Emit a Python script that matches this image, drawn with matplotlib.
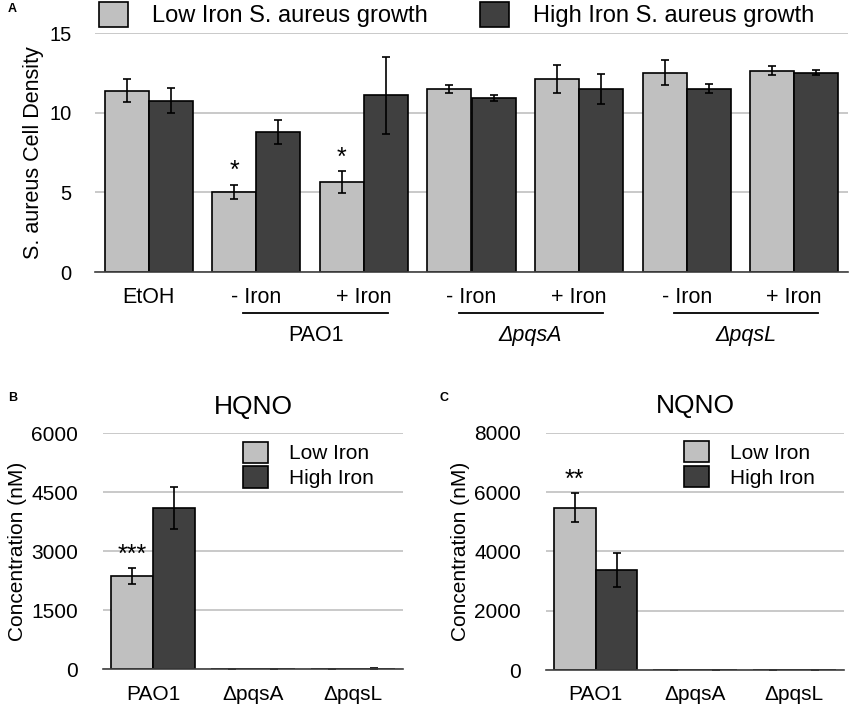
import matplotlib
matplotlib.use("Agg")
import matplotlib.pyplot as plt
import numpy as np

plt.rcParams['font.family'] = ['Liberation Sans', 'DejaVu Sans']

# ---- Panel A data ----
a_conditions = ["EtOH", "- Iron", "+ Iron", "- Iron", "+ Iron", "- Iron", "+ Iron"]
a_low = [11.4, 5.03, 5.66, 11.5, 12.13, 12.53, 12.65]
a_low_err = [0.73, 0.45, 0.67, 0.28, 0.9, 0.79, 0.3]
a_high = [10.77, 8.8, 11.1, 10.94, 11.48, 11.52, 12.53]
a_high_err = [0.77, 0.78, 2.4, 0.17, 0.95, 0.27, 0.16]
a_stars = ["", "*", "*", "", "", "", ""]
a_groups = ["PAO1", "\u0394pqsA", "\u0394pqsL"]
a_yticks = [0, 5, 10, 15]
a_legend = ["Low Iron S. aureus growth", "High Iron S. aureus growth"]

# ---- Panel B data (HQNO) ----
b_strains = ["PAO1", "\u0394pqsA", "\u0394pqsL"]
b_low = [2372, 8, 10]
b_low_err = [210, 8, 8]
b_high = [4108, 8, 15]
b_high_err = [530, 8, 10]
b_yticks = [0, 1500, 3000, 4500, 6000]

# ---- Panel C data (NQNO) ----
c_strains = ["PAO1", "\u0394pqsA", "\u0394pqsL"]
c_low = [5471, 8, 8]
c_low_err = [490, 8, 8]
c_high = [3371, 8, 8]
c_high_err = [570, 8, 8]
c_yticks = [0, 2000, 4000, 6000, 8000]

LIGHT = "#c0c0c0"
DARK = "#404040"
GRID = "#c0c0c0"

W, H = 851, 707
fig = plt.figure(figsize=(W / 100, H / 100), dpi=100)


def px_axes(x0, y_top, x1, y_bot):
    return fig.add_axes([x0 / W, (H - y_bot) / H, (x1 - x0) / W, (y_bot - y_top) / H])


def style(ax, yticks, fs, ypad, xpad):
    ax.set_yticks(yticks)
    ax.set_ylim(yticks[0], yticks[-1])
    ax.yaxis.grid(True, color=GRID, lw=1.2)
    ax.set_axisbelow(True)
    for s in ["top", "right", "left"]:
        ax.spines[s].set_visible(False)
    ax.spines["bottom"].set_color("#404040")
    ax.spines["bottom"].set_linewidth(1.2)
    ax.tick_params(axis="both", length=0, labelsize=fs, colors="black")
    ax.tick_params(axis="y", pad=ypad)
    ax.tick_params(axis="x", pad=xpad)


# ================= Panel A =================
axA = px_axes(95, 33.3, 848, 272)
x = np.arange(len(a_conditions))
bw = 0.41
ek = dict(ecolor="black", elinewidth=1.2, capsize=3, capthick=1.2)
axA.bar(x - bw / 2, a_low, bw, color=LIGHT, edgecolor="black", lw=1.2,
        yerr=a_low_err, error_kw=ek, label=a_legend[0], zorder=2)
axA.bar(x + bw / 2, a_high, bw, color=DARK, edgecolor="black", lw=1.2,
        yerr=a_high_err, error_kw=ek, label=a_legend[1], zorder=2)
for i, s in enumerate(a_stars):
    if s:
        axA.text(x[i] - bw / 2, a_low[i] + a_low_err[i] + 0.1, s, ha="center",
                 va="bottom", fontsize=18)
axA.set_xlim(-0.5, len(a_conditions) - 0.5)
style(axA, a_yticks, 14.5, 17, 11)
axA.set_xticks(x)
axA.set_xticklabels(a_conditions, fontsize=15.5)
axA.set_ylabel("S. aureus Cell Density", fontsize=15.5, labelpad=4)
axA.legend(loc="lower center", bbox_to_anchor=(0.48, 0.985), ncol=2, frameon=False,
           fontsize=17, handlelength=1.25, handleheight=1.2, columnspacing=2.2,
           handletextpad=1.0, borderaxespad=0)
# group underlines and labels
for g, name in enumerate(a_groups):
    i1, i2 = 1 + 2 * g, 2 + 2 * g
    axA.plot([i1 - 0.12, i2 + 0.22], [-0.17, -0.17], color="black", lw=1.3,
             transform=axA.get_xaxis_transform(), clip_on=False)
    axA.text((i1 + i2) / 2 + 0.05, -0.265, name, ha="center", va="center",
             fontsize=15.5, style=("normal" if g == 0 else "italic"),
             transform=axA.get_xaxis_transform())
fig.text(8 / W, 1 - 9 / H, "A", fontsize=9, fontweight="bold", va="center")


# ================= Panels B & C =================
def small_panel(box, strains, low, low_err, high, high_err, yticks, title, ylabel,
                star, letter, letter_x):
    ax = px_axes(*box)
    xs = np.arange(len(strains))
    bw2 = 0.42
    ax.bar(xs - bw2 / 2, low, bw2, color=LIGHT, edgecolor="black", lw=1.2,
           yerr=low_err, error_kw=ek, label="Low Iron", zorder=2)
    ax.bar(xs + bw2 / 2, high, bw2, color=DARK, edgecolor="black", lw=1.2,
           yerr=high_err, error_kw=ek, label="High Iron", zorder=2)
    ax.set_xlim(-0.5, len(strains) - 0.5)
    style(ax, yticks, 15, 18, 11)
    ax.set_xticks(xs)
    ax.set_xticklabels(strains)
    ax.set_ylabel(ylabel, fontsize=15, labelpad=3)
    ax.set_title(title, fontsize=19, pad=14)
    ax.text(xs[0] - bw2 / 2, low[0] + low_err[0] + yticks[-1] * 0.005, star,
            ha="center", va="bottom", fontsize=18)
    ax.legend(loc="upper right", bbox_to_anchor=(0.93, 1.0), frameon=False,
              fontsize=15, handlelength=1.2, handleheight=1.2, handletextpad=1.0,
              labelspacing=0.15, borderaxespad=0)
    fig.text(letter_x / W, 1 - 398 / H, letter, fontsize=9, fontweight="bold",
             va="center")
    return ax


small_panel((103, 433.3, 403, 669.3), b_strains, b_low, b_low_err, b_high, b_high_err,
            b_yticks, "HQNO", "Concentration (nM)", "***", "B", 8)
small_panel((546, 432.7, 844, 670), c_strains, c_low, c_low_err, c_high, c_high_err,
            c_yticks, "NQNO", "Concentration (nM)", "**", "C", 440)

fig.savefig("out.png", dpi=100)
